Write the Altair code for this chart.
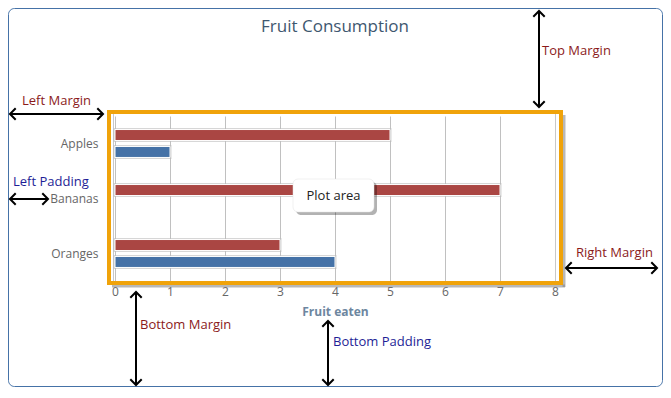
import altair as alt
import pandas as pd

# ---- data -------------------------------------------------------------
categories = ["Apples", "Bananas", "Oranges"]
jane = [1, 0, 4]
john = [5, 7, 3]
x_ticks = [0, 1, 2, 3, 4, 5, 6, 7, 8]
chart_title = "Fruit Consumption"
axis_title = "Fruit eaten"

rows = []
for i, c in enumerate(categories):
    rows.append({"fruit": c, "person": "John", "eaten": john[i]})
    rows.append({"fruit": c, "person": "Jane", "eaten": jane[i]})
df = pd.DataFrame(rows)

# ---- layout (page pixels -> view pixels) ------------------------------
OX, OY = 115, 116
W, H = 440, 165


def px(x):
    return x - OX


def py(y):
    return y - OY


one = pd.DataFrame({"k": [0]})
FONT = "Open Sans"
MARGIN_C = "#8B1A1A"
PAD_C = "#1E1E96"

layers = []

# outer rounded chart border
layers.append(
    alt.Chart(one).mark_rect(fillOpacity=0, stroke="#4572A7", strokeWidth=1, cornerRadius=6).encode(
        x=alt.value(px(8.5)), x2=alt.value(px(662.5)), y=alt.value(py(8.5)), y2=alt.value(py(386.5)))
)

# inner plot border
layers.append(
    alt.Chart(one).mark_rect(fillOpacity=0, stroke="#C8C8C8", strokeWidth=1).encode(
        x=alt.value(px(113.5)), x2=alt.value(px(555.5)), y=alt.value(py(113.5)), y2=alt.value(py(281.5)))
)

x_enc = alt.X(
    "eaten:Q",
    scale=alt.Scale(domain=[0, 8], nice=False),
    axis=alt.Axis(values=x_ticks, grid=True, gridColor="#C0C0C0", gridWidth=1, ticks=False, domain=False,
                  labelColor="#666666", labelFontSize=12, labelFont=FONT, labelPadding=5,
                  labelFlush=False, title=None),
)
y_enc = alt.Y(
    "fruit:N",
    sort=categories,
    scale=alt.Scale(paddingInner=0, paddingOuter=0),
    axis=alt.Axis(ticks=False, domain=False, labelColor="#666666", labelFontSize=12, labelFont=FONT,
                  labelPadding=17, title=None),
)
off = alt.YOffset("person:N", sort=["John", "Jane"],
                  scale=alt.Scale(paddingInner=0.35, paddingOuter=0.8))
color = alt.Color("person:N", scale=alt.Scale(domain=["Jane", "John"], range=["#4572A7", "#AA4643"]),
                  legend=None)

bars_shadow = alt.Chart(df).transform_filter("datum.eaten > 0").mark_bar(
    stroke="#BBBBBB", strokeWidth=3, strokeOpacity=0.6).encode(x=x_enc, y=y_enc, yOffset=off, color=color)
bars = alt.Chart(df).transform_filter("datum.eaten > 0").mark_bar(
    stroke="white", strokeWidth=1).encode(x=x_enc, y=y_enc, yOffset=off, color=color)
layers += [bars_shadow, bars]

# orange plot-area frame with shadow
layers.append(alt.Chart(one).mark_rule(stroke="#888888", strokeWidth=3, strokeOpacity=0.6).encode(
    x=alt.value(px(564)), y=alt.value(py(115)), y2=alt.value(py(287))))
layers.append(alt.Chart(one).mark_rule(stroke="#888888", strokeWidth=3, strokeOpacity=0.6).encode(
    x=alt.value(px(112)), x2=alt.value(px(565)), y=alt.value(py(286))))
layers.append(
    alt.Chart(one).mark_rect(fillOpacity=0, stroke="#F0A30A", strokeWidth=4).encode(
        x=alt.value(px(109)), x2=alt.value(px(561)), y=alt.value(py(112)), y2=alt.value(py(283)))
)

# "Plot area" callout
layers.append(alt.Chart(one).mark_rect(fill="#000000", fillOpacity=0.3, cornerRadius=5).encode(
    x=alt.value(px(296)), x2=alt.value(px(377)), y=alt.value(py(182)), y2=alt.value(py(215))))
layers.append(alt.Chart(one).mark_rect(fill="white", stroke="#E0E0E0", strokeWidth=0.5, cornerRadius=5).encode(
    x=alt.value(px(293)), x2=alt.value(px(374)), y=alt.value(py(179)), y2=alt.value(py(212))))


def text(label, x, y, color, size=13, align="left", weight="normal"):
    return alt.Chart(one).mark_text(text=label, align=align, baseline="middle", font=FONT,
                                    fontSize=size, color=color, fontWeight=weight).encode(
        x=alt.value(px(x)), y=alt.value(py(y)))


HEAD = "M-1,-1L0,0L-1,1"


def head(x, y, angle):
    return alt.Chart(one).mark_point(shape=HEAD, filled=False, stroke="black", strokeWidth=2,
                                     size=130, opacity=1, angle=angle).encode(
        x=alt.value(px(x)), y=alt.value(py(y)))


def harrow(y, x1, x2):
    return [
        alt.Chart(one).mark_rule(stroke="black", strokeWidth=2).encode(
            x=alt.value(px(x1) + 1), x2=alt.value(px(x2) - 1), y=alt.value(py(y))),
        head(x1, y, 180),
        head(x2, y, 0),
    ]


def varrow(x, y1, y2):
    return [
        alt.Chart(one).mark_rule(stroke="black", strokeWidth=2).encode(
            x=alt.value(px(x)), y=alt.value(py(y1) + 1), y2=alt.value(py(y2) - 1)),
        head(x, y1, 270),
        head(x, y2, 90),
    ]


layers.append(text("Plot area", 333.5, 196, "#222222", size=13, align="center"))
layers.append(text(chart_title, 335, 27, "#3E576F", size=17, align="center"))
layers.append(text(axis_title, 335.5, 312, "#6D869F", size=12, align="center", weight="bold"))

layers.append(text("Top Margin", 542, 51, MARGIN_C))
layers.append(text("Left Margin", 22, 101, MARGIN_C))
layers.append(text("Right Margin", 576, 253, MARGIN_C))
layers.append(text("Bottom Margin", 140, 325, MARGIN_C))
layers.append(text("Left Padding", 13, 182, PAD_C))
layers.append(text("Bottom Padding", 333, 342, PAD_C))

layers += varrow(539, 11, 107)
layers += harrow(114, 10, 103)
layers += harrow(199, 10, 48)
layers += harrow(268, 566, 657)
layers += varrow(136, 292, 385)
layers += varrow(328, 321, 385)

chart = alt.layer(*layers).properties(
    width=W, height=H, autosize="none",
    padding={"left": 107, "top": 108, "right": 108, "bottom": 106},
    background="white",
).configure_view(strokeWidth=0)

chart.save("out.html", embed_options={"renderer": "svg", "actions": False})
